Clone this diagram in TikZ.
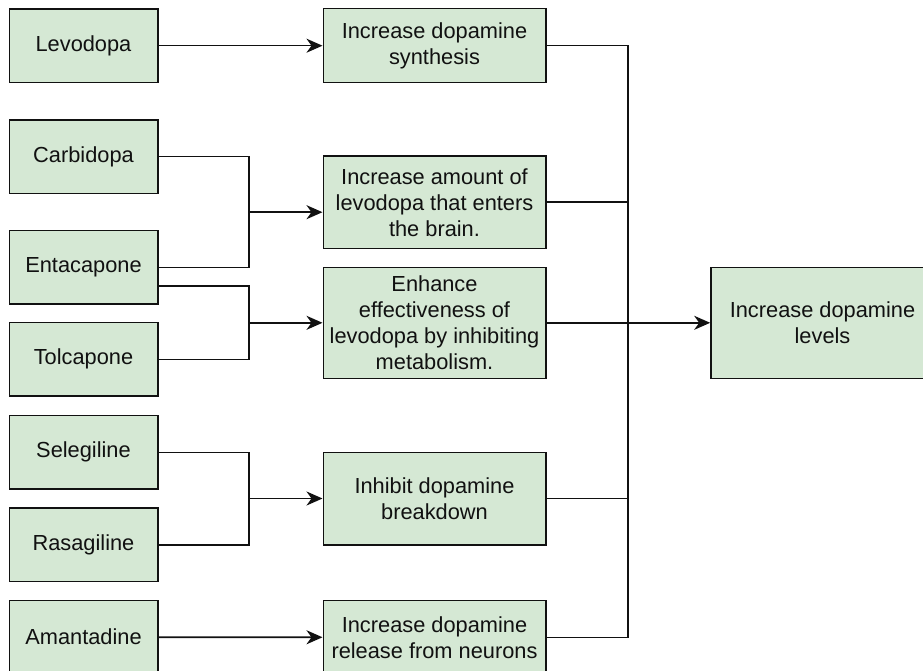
\documentclass[tikz,border=0pt]{standalone}
\usepackage{fontspec}
\setmainfont{Liberation Sans}
\usetikzlibrary{arrows.meta,calc}

\definecolor{boxfill}{HTML}{D5E8D4}
\definecolor{ink}{HTML}{111111}

\tikzset{
  box/.style={draw=ink, fill=boxfill, line width=1.6pt, inner sep=0pt,
    align=center, text=ink, font=\fontsize{21.8}{26}\selectfont},
  drug/.style={box, minimum width=148.4pt, minimum height=73.5pt},
  effect/.style={box, minimum width=222.4pt},
  wire/.style={draw=ink, line width=1.6pt},
  feed/.style={wire, -{Stealth[length=16pt, width=14pt, inset=5pt]}},
}

\begin{document}
\begin{tikzpicture}[x=1pt, y=-1pt]
  \useasboundingbox[fill=white] (0,0) rectangle (923,671);

  % drugs
  \node[drug] (levodopa)   at (83.5,45.7)  {Levodopa};
  \node[drug] (carbidopa)  at (83.5,156.6) {Carbidopa};
  \node[drug] (entacapone) at (83.5,267.3) {Entacapone};
  \node[drug] (tolcapone)  at (83.5,359.3) {Tolcapone};
  \node[drug] (selegiline) at (83.5,452.3) {Selegiline};
  \node[drug] (rasagiline) at (83.5,544.7) {Rasagiline};
  \node[drug] (amantadine) at (83.5,637.2) {Amantadine};

  % mechanisms
  \node[effect, minimum height=74pt]   (synth)   at (434.5,45.7)
    {Increase dopamine\\synthesis};
  \node[effect, minimum height=92.7pt] (enter)   at (434.5,202.3)
    {Increase amount of\\levodopa that enters\\the brain.};
  \node[effect, minimum height=111pt]  (enhance) at (434.5,322.8)
    {Enhance\\effectiveness of\\levodopa by inhibiting\\metabolism.};
  \node[effect, minimum height=92.4pt] (inhibit) at (434.5,498.5)
    {Inhibit dopamine\\breakdown};
  \node[effect, minimum height=74pt]   (release) at (434.5,637.3)
    {Increase dopamine\\release from neurons};

  % outcome
  \node[box, minimum width=223pt, minimum height=111pt] (levels) at (822.5,322.8)
    {Increase dopamine\\levels};

  % junctions
  \coordinate (j1) at (249,212.2);
  \coordinate (j2) at (249,322.8);
  \coordinate (j3) at (249,498.5);
  \coordinate (bus) at (628,0);
  \coordinate (enta2) at ($(entacapone.east)+(0,18.4)$);

  % drug -> mechanism
  \draw[feed] (levodopa) -- (synth);
  \draw[wire] (carbidopa.east) -| (j1);
  \draw[wire] (entacapone.east) -| (j1);
  \draw[feed] (j1) -- (j1 -| enter.west);
  \draw[wire] (enta2) -| (j2);
  \draw[wire] (tolcapone.east) -| (j2);
  \draw[feed] (j2) -- (enhance.west);
  \draw[wire] (selegiline.east) -| (j3);
  \draw[wire] (rasagiline.east) -| (j3);
  \draw[feed] (j3) -- (inhibit.west);
  \draw[feed] (amantadine) -- (release);

  % mechanism -> outcome
  \draw[wire] (synth.east) -- (synth.east -| bus) -- (release.east -| bus) -- (release.east);
  \draw[wire] (enter.east) -- (enter.east -| bus);
  \draw[wire] (inhibit.east) -- (inhibit.east -| bus);
  \draw[feed] (enhance) -- (levels);
\end{tikzpicture}
\end{document}
